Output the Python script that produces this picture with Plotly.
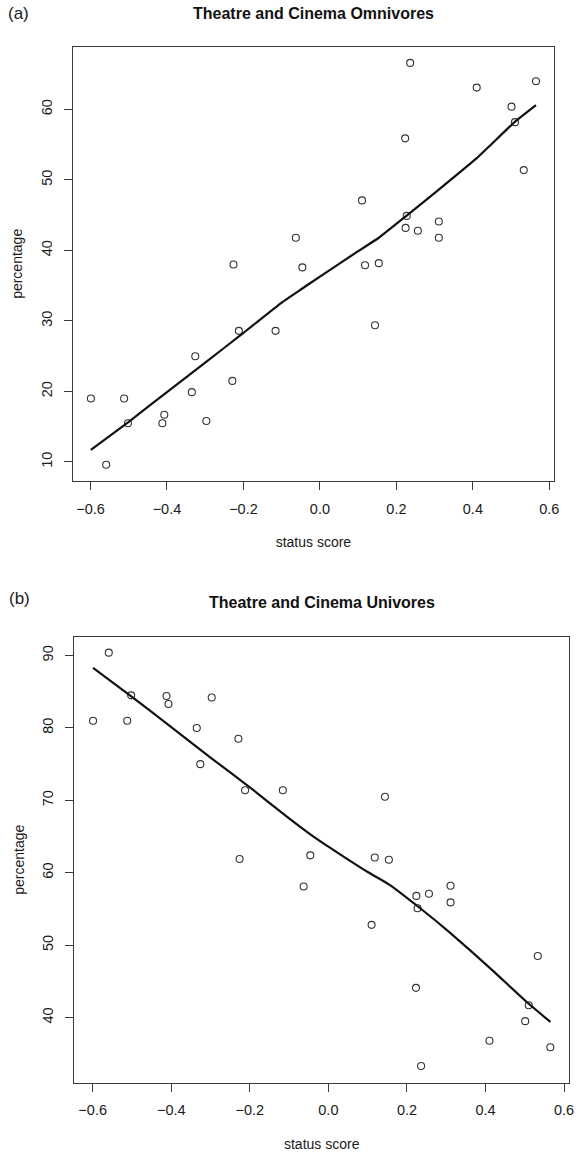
import plotly.graph_objects as go

# ---- data ----
status_score = [-0.599, -0.559, -0.512, -0.502, -0.412, -0.407, -0.335, -0.326, -0.297,
                -0.229, -0.226, -0.212, -0.116, -0.063, -0.046, 0.110, 0.118, 0.144,
                0.154, 0.223, 0.224, 0.227, 0.236, 0.256, 0.311, 0.311, 0.410, 0.501,
                0.510, 0.533, 0.565]
omnivore_pct = [19.0, 9.6, 19.0, 15.5, 15.5, 16.7, 19.9, 25.0, 15.8,
                21.5, 38.0, 28.6, 28.6, 41.8, 37.6, 47.1, 37.9, 29.4,
                38.2, 55.9, 43.2, 44.9, 66.6, 42.8, 44.1, 41.8, 63.1, 60.4,
                58.2, 51.4, 64.0]
univore_pct = [81.0, 90.4, 81.0, 84.5, 84.4, 83.3, 80.0, 75.0, 84.2,
               78.5, 61.9, 71.4, 71.4, 58.1, 62.4, 52.8, 62.1, 70.5,
               61.8, 44.1, 56.8, 55.1, 33.3, 57.1, 55.9, 58.2, 36.8, 39.5,
               41.7, 48.5, 35.9]

omni_smooth_x = [-0.599, -0.5, -0.4, -0.3, -0.2, -0.1, -0.046, 0.0, 0.1, 0.154,
                 0.226, 0.31, 0.41, 0.509, 0.565]
omni_smooth_y = [11.7, 15.7, 19.9, 24.1, 28.3, 32.6, 34.6, 36.3, 39.9, 41.8,
                 44.9, 48.6, 53.1, 58.2, 60.6]
uni_smooth_x = [-0.599, -0.5, -0.4, -0.3, -0.2, -0.1, -0.046, 0.0, 0.1, 0.154,
                0.229, 0.31, 0.41, 0.51, 0.565]
uni_smooth_y = [88.3, 84.3, 80.1, 75.9, 71.8, 67.5, 65.3, 63.6, 60.1, 58.4,
                55.3, 51.7, 46.9, 41.9, 39.4]

x_ticks = [-0.6, -0.4, -0.2, 0.0, 0.2, 0.4, 0.6]
x_tick_labels = ["\u22120.6", "\u22120.4", "\u22120.2", "0.0", "0.2", "0.4", "0.6"]
omni_y_ticks = [10, 20, 30, 40, 50, 60]
uni_y_ticks = [40, 50, 60, 70, 80, 90]

title_a = "Theatre and Cinema Omnivores"
title_b = "Theatre and Cinema Univores"
x_title = "status score"
y_title = "percentage"

# ---- styling ----
FONT = "Liberation Sans, Arial, Helvetica, sans-serif"
AX = "#3a3a3a"
W, H = 580, 1154

fig = go.Figure()

marker = dict(symbol="circle-open", size=7, color="#333333", line=dict(width=1.1, color="#333333"))

fig.add_trace(go.Scatter(x=status_score, y=omnivore_pct, mode="markers", marker=marker,
                         xaxis="x", yaxis="y", showlegend=False))
fig.add_trace(go.Scatter(x=omni_smooth_x, y=omni_smooth_y, mode="lines",
                         line=dict(color="#111111", width=2.2, shape="spline", smoothing=0.4),
                         xaxis="x", yaxis="y", showlegend=False))
fig.add_trace(go.Scatter(x=status_score, y=univore_pct, mode="markers", marker=marker,
                         xaxis="x2", yaxis="y2", showlegend=False))
fig.add_trace(go.Scatter(x=uni_smooth_x, y=uni_smooth_y, mode="lines",
                         line=dict(color="#111111", width=2.2, shape="spline", smoothing=0.4),
                         xaxis="x2", yaxis="y2", showlegend=False))

def xax(domain, anchor):
    return dict(domain=domain, anchor=anchor, range=[-0.6466, 0.6126],
                tickmode="array", tickvals=x_ticks, ticktext=x_tick_labels,
                ticks="outside", ticklen=8, tickwidth=1, tickcolor=AX,
                showline=True, mirror=True, linecolor=AX, linewidth=1.2,
                showgrid=False, zeroline=False, ticklabelstandoff=6,
                tickfont=dict(size=14.5, color="#1a1a1a", family=FONT),
                title=dict(text=x_title, standoff=21, font=dict(size=14, color="#1a1a1a", family=FONT)))

def yax(domain, anchor, rng, ticks):
    return dict(domain=domain, anchor=anchor, range=rng,
                tickmode="array", tickvals=ticks, ticktext=[str(t) for t in ticks],
                tickangle=-90,
                ticks="outside", ticklen=8, tickwidth=1, tickcolor=AX,
                showline=True, mirror=True, linecolor=AX, linewidth=1.2,
                showgrid=False, zeroline=False, ticklabelstandoff=6,
                tickfont=dict(size=14.5, color="#1a1a1a", family=FONT),
                title=dict(text=y_title, standoff=12, font=dict(size=14, color="#1a1a1a", family=FONT)))

fig.update_layout(
    width=W, height=H,
    margin=dict(l=0, r=0, t=0, b=0),
    paper_bgcolor="white", plot_bgcolor="white",
    font=dict(family=FONT, color="#1a1a1a"),
    xaxis=xax([73.3 / W, 559 / W], "y"),
    yaxis=yax([1 - 481 / H, 1 - 46.7 / H], "x", [7.3, 68.9], omni_y_ticks),
    xaxis2=xax([75 / W, 574 / W], "y2"),
    yaxis2=yax([1 - 1082.7 / H, 1 - 636.7 / H], "x2", [31.0, 92.6], uni_y_ticks),
    annotations=[
        dict(text="(a)", x=19 / W, y=1 - 13 / H, xref="paper", yref="paper",
             showarrow=False, xanchor="center", yanchor="middle",
             font=dict(size=17, family=FONT, color="#1a1a1a")),
        dict(text="<b>" + title_a + "</b>", x=316.3 / W, y=1 - 13 / H, xref="paper", yref="paper",
             showarrow=False, xanchor="center", yanchor="middle",
             font=dict(size=16, family=FONT, color="#111111")),
        dict(text="(b)", x=20 / W, y=1 - 598 / H, xref="paper", yref="paper",
             showarrow=False, xanchor="center", yanchor="middle",
             font=dict(size=17, family=FONT, color="#1a1a1a")),
        dict(text="<b>" + title_b + "</b>", x=324.5 / W, y=1 - 602 / H, xref="paper", yref="paper",
             showarrow=False, xanchor="center", yanchor="middle",
             font=dict(size=16, family=FONT, color="#111111")),
    ],
)

fig.write_html("out.html")
